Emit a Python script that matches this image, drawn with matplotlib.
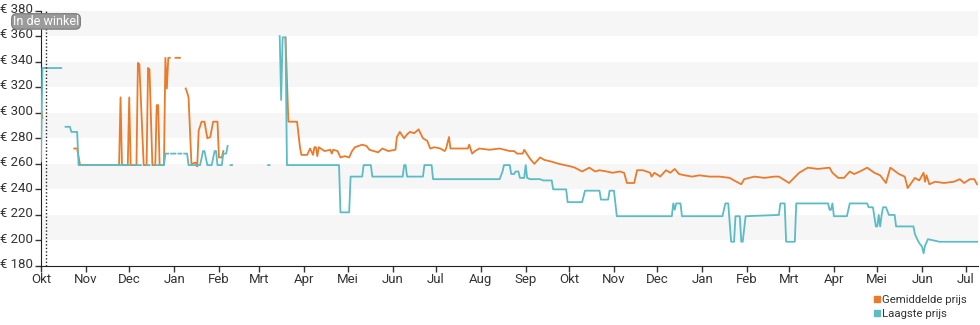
import matplotlib
matplotlib.use('Agg')
import matplotlib.pyplot as plt
import matplotlib.dates as mdates
import matplotlib.transforms as mtransforms
from matplotlib.lines import Line2D
import numpy as np
import pandas as pd

plt.rcParams['font.family'] = ['Roboto', 'DejaVu Sans']

# data: days since 2022-10-01, None marks a gap in the series
start = pd.Timestamp('2022-10-01')

gem_dagen = [0, 1, None,
             23, 25, 27, 54, 55, 56, 60, 61, 62, 66, 67, 68, 71, 73, 74, 75, 77, 79, 80, 81, 82, 85,
             86, 87, 88, 89, None, 93, 96, None,
             100, 101, 102, 104, 107, 108, 109, 111, 113, 115, 117, 119, 122, 123, 125, 126, None,
             169, 171, 177, 179, 180, 184, 186, 188, 189, 190,
             191, 192, 196, 200, 201, 202, 205, 207, 210, 213,
             215, 217, 222, 225, 227, 233, 236, 240, 245, 246,
             248, 251, 253, 255, 258, 261, 264, 267, 269, 272,
             276, 279, 280, 282, 283, 289, 295, 296, 298, 300,
             303, 310, 317, 324, 327, 329, 333, 334, 338, 341,
             345, 348, 352, 355, 358, 362, 366, 369, 374, 379,
             383, 386, 391, 395, 400, 403, 405, 410, 412, 416,
             421, 422, 424, 428, 432, 435, 438, 441, 445, 450,
             455, 462, 469, 476, 479, 484, 486, 493, 500, 507,
             510, 517, 524, 530, 537, 545, 547, 551, 555, 559,
             562, 566, 571, 576, 580, 584, 587, 593, 597, 599,
             604, 607, 610, 611, 612, 614, 618, 624, 631, 635,
             638, 642, 645, 647]
gem_prijs = [303, 296, None,
             272, 272, 259, 259, 312, 259, 259, 312, 259, 259, 339, 338, 259, 259, 335, 334, 259, 259,
             306, 306, 259, 259, 343, 319, 343, 343, None, 343, 343, None,
             319, 316, 312, 260, 261, 258, 286, 293, 293, 280, 281, 293, 293, 265, 265, 270, None,
             359, 293, 293, 273, 267, 267, 272, 267, 273, 273,
             266, 273, 270, 271, 268, 271, 270, 265, 266, 265,
             270, 273, 275, 274, 271, 269, 272, 270, 271, 281,
             285, 280, 283, 285, 284, 287, 280, 278, 272, 273,
             272, 270, 272, 281, 272, 272, 272, 275, 268, 270,
             272, 271, 272, 270, 270, 268, 268, 271, 264, 260,
             265, 263, 262, 261, 260, 259, 258, 257, 254, 257,
             254, 255, 254, 253, 254, 253, 245, 245, 255, 255,
             253, 250, 253, 250, 255, 253, 256, 252, 251, 250,
             251, 250, 250, 249, 247, 244, 248, 250, 249, 250,
             250, 245, 253, 257, 256, 257, 253, 249, 249, 254,
             252, 254, 257, 253, 251, 245, 257, 252, 250, 241,
             249, 247, 253, 246, 251, 244, 246, 245, 246, 248,
             245, 248, 248, 244]

laag_dagen = [0, 1, 14, None,
              17, 20, 21, 25, 26, 62, None,
              65, 69, None, 73, 75, None, 79, 85, 86, 88, None, 90, 93, None, 95, 97, None,
              99, 101, 102, 110, 112, 113, 115, 118, 120, 121, 122, 125, 126, 128, 129, None,
              131, 132, None, 157, 158, None,
              165, 166, 167, 169, 170, 206, 207, 213, 214, 222, 223, 228, 229, 250, 251, 252, 253,
              264, 265, 270, 271, 317, 319, 320, 324, 325, 327, 328, 330, 331, 334, 335, 336, 338,
              345, 347, 353, 354, 363, 364, 374, 376, 386, 387, 392, 393, 396, 398, 436, 437, 438,
              439, 442, 443, 471, 473, 475, 477, 479, 480, 483, 484, 485, 487, 510, 511, 514, 515,
              521, 522, 544, 545, 546, 547, 548, 557, 559, 571, 572, 575, 577, 578, 579, 580, 581,
              582, 584, 586, 590, 591, 603, 604, 606, 607, 609, 610, 611, 613, 621, 647]
laag_prijs = [262, 335, 335, None,
              289, 289, 285, 285, 259, 259, None,
              259, 259, None, 259, 259, None, 259, 259, 268, 268, None, 268, 268, None, 268, 268, None,
              268, 268, 259, 259, 270, 270, 259, 259, 270, 270, 259, 259, 268, 268, 274, None,
              259, 259, None, 259, 259, None,
              360, 310, 359, 359, 259, 259, 222, 222, 250, 250, 259, 259, 250, 250, 259, 259, 250,
              250, 259, 259, 248, 248, 254, 259, 259, 252, 252, 254, 254, 249, 249, 259, 249, 248,
              248, 247, 247, 240, 240, 230, 230, 239, 239, 232, 232, 239, 239, 219, 219, 229, 224,
              229, 229, 219, 219, 229, 229, 199, 199, 219, 219, 199, 199, 219, 220, 229, 229, 199,
              199, 229, 229, 224, 224, 229, 219, 219, 229, 229, 226, 226, 211, 211, 220, 211, 220,
              226, 226, 220, 220, 211, 211, 205, 200, 198, 195, 190, 196, 201, 199, 199]

maanden = ['Jan', 'Feb', 'Mrt', 'Apr', 'Mei', 'Jun', 'Jul', 'Aug', 'Sep', 'Okt', 'Nov', 'Dec']
y_ticks = list(range(180, 381, 20))


def to_xy(dagen, prijzen):
    x = [start + pd.Timedelta(days=d) if d is not None else pd.NaT for d in dagen]
    y = [p if p is not None else np.nan for p in prijzen]
    return pd.to_datetime(x), np.array(y, dtype=float)


oranje = '#ea7b2b'
blauw = '#5bbcc5'

fig = plt.figure(figsize=(9.8, 3.25), dpi=100)
ax = fig.add_axes([0.0418, 0.1815, 0.956, 0.786])

# alternating grey bands
for lo in range(200, 380, 40):
    ax.axhspan(lo, lo + 20, color='#f6f6f6', zorder=0, lw=0)

x, y = to_xy(gem_dagen, gem_prijs)
ax.plot(x, y, color=oranje, lw=1.3, zorder=2)
x, y = to_xy(laag_dagen, laag_prijs)
ax.plot(x, y, color=blauw, lw=1.3, zorder=3)

ax.set_xlim(start, start + pd.Timedelta(days=647.5))
ax.set_ylim(180, 380)
ax.set_yticks(y_ticks)
ax.set_yticklabels(['€ %d' % v for v in y_ticks])

ax.xaxis.set_major_locator(mdates.MonthLocator())
ax.xaxis.set_major_formatter(plt.FuncFormatter(lambda v, p: maanden[mdates.num2date(v).month - 1]))

for s in ['top', 'right']:
    ax.spines[s].set_visible(False)
ax.spines['left'].set_color('#222222')
ax.spines['bottom'].set_color('#222222')
ax.tick_params(axis='y', length=4, width=1, labelsize=9.5, colors='#333333', pad=2)
ax.tick_params(axis='x', length=4, width=1, labelsize=9.5, colors='#333333', pad=1)

# y labels sit a little above their ticks
schuif = mtransforms.ScaledTranslation(0, 2 / 72, fig.dpi_scale_trans)
for lab in ax.get_yticklabels():
    lab.set_transform(lab.get_transform() + schuif)

# "in de winkel" marker
winkel = start + pd.Timedelta(days=3.5)
ax.axvline(winkel, color='#222222', lw=1, ls=(0, (1, 1.5)), zorder=4)
ax.text(winkel, 371.5, 'In de winkel', ha='center', va='center', color='white', fontsize=9,
        zorder=5, clip_on=False,
        bbox=dict(boxstyle='round,pad=0.1,rounding_size=0.4', fc='#9b9b9b', ec='#7a7a7a', lw=0.8))

handles = [Line2D([], [], ls='', marker='s', ms=4.5, color=oranje, label='Gemiddelde prijs'),
           Line2D([], [], ls='', marker='s', ms=4.5, color=blauw, label='Laagste prijs')]
fig.legend(handles=handles, loc='lower right', bbox_to_anchor=(0.995, -0.005), frameon=False,
           fontsize=8.2, handlelength=0.5, handletextpad=0.2, labelspacing=0.3, borderpad=0.2,
           labelcolor='#333333')

fig.savefig('out.png', dpi=100)
